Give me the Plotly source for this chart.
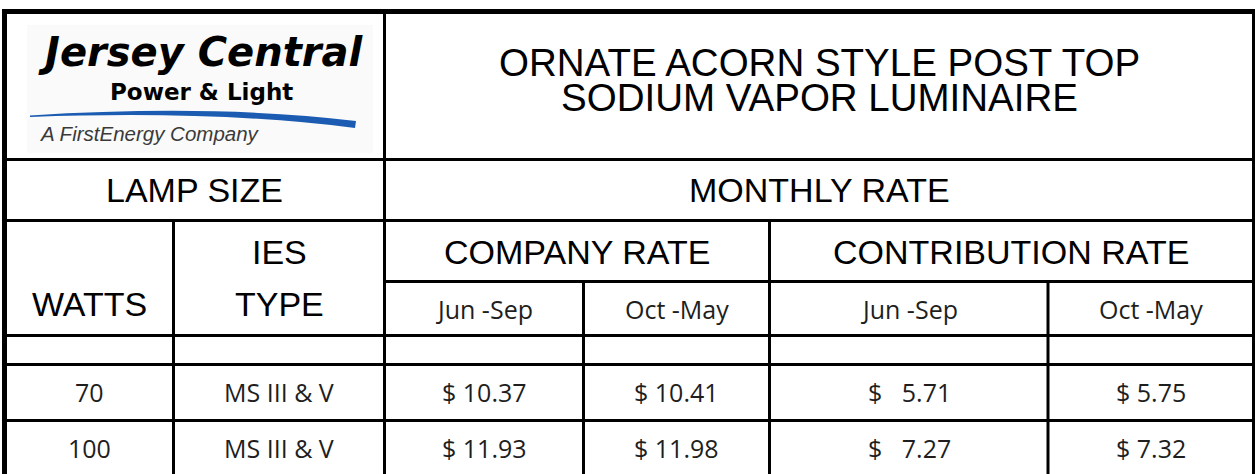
import plotly.graph_objects as go

# ---------------- data ----------------
title_lines = ["ORNATE ACORN STYLE POST TOP", "SODIUM VAPOR LUMINAIRE"]
group_headers = ["LAMP SIZE", "MONTHLY RATE"]
rate_headers = ["COMPANY RATE", "CONTRIBUTION RATE"]
season_labels = ["Jun -Sep", "Oct -May", "Jun -Sep", "Oct -May"]
watts = [70, 100]
ies_types = ["MS III & V", "MS III & V"]
company_jun_sep = [10.37, 11.93]
company_oct_may = [10.41, 11.98]
contribution_jun_sep = [5.71, 7.27]
contribution_oct_may = [5.75, 7.32]

# ---------------- layout constants ----------------
W, H = 1255, 474
HEAD_FONT = "Liberation Sans, Arial, sans-serif"
BODY_FONT = "'Open Sans', Lato, sans-serif"
BODY_COLOR = "#1e1e1e"

fig = go.Figure()
fig.add_trace(go.Scatter(x=[0, W], y=[0, H], mode="markers",
                         marker=dict(opacity=0), hoverinfo="skip", showlegend=False))

shapes = []
def hline(y, x0, x1, w=3):
    shapes.append(dict(type="line", xref="x", yref="y", x0=x0, x1=x1, y0=y, y1=y,
                       line=dict(color="black", width=w)))
def vline(x, y0, y1, w=3):
    shapes.append(dict(type="line", xref="x", yref="y", x0=x, x1=x, y0=y0, y1=y1,
                       line=dict(color="black", width=w)))

# logo background + swoosh
shapes.append(dict(type="rect", xref="x", yref="y", x0=27, x1=373, y0=25, y1=153,
                   fillcolor="#fafafa", line=dict(width=0), layer="below"))
shapes.append(dict(type="path", xref="x", yref="y",
                   path="M 30,115.5 Q 215,104 356,121 L 355,128 Q 215,110 30,117 Z",
                   fillcolor="#1b5cb2", line=dict(width=0)))

# outer borders
hline(11.5, 2, W, 5)
vline(4.5, 9, H, 5)
vline(1253.5, 9, H, 3)
# horizontal rules
hline(159.5, 4, W)
hline(220.5, 4, W)
hline(281.5, 384.5, W)
hline(335.5, 4, W)
hline(364.5, 4, W)
hline(420.5, 4, W)
# vertical rules
vline(384.5, 11, H)
vline(173.5, 220.5, H)
vline(769.5, 220.5, H)
vline(583.5, 281.5, H)
vline(1048, 281.5, H)

ann = []
def text(x, y, s, size, font=HEAD_FONT, color="black", **kw):
    ann.append(dict(x=x, y=y, xref="x", yref="y", text=s, showarrow=False,
                    xanchor=kw.pop("xanchor", "center"), yanchor="middle",
                    font=dict(family=font, size=size, color=color), **kw))

# logo text
text(200, 52, "<b><i>Jersey Central</i></b>", 40, font="DejaVu Sans, sans-serif")
text(201, 92, "<b>Power & Light</b>", 23, font="DejaVu Sans, sans-serif")
text(37, 133, "<i>A FirstEnergy Company</i>", 20.5, color="#3a3a3a", xanchor="left")

# title
text(819.5, 62, title_lines[0], 38.5)
text(819.5, 97, title_lines[1], 38.5)

# group headers
text(194, 190, group_headers[0], 34)
text(819.5, 190, group_headers[1], 34)
text(89, 304, "WATTS", 34)
text(279, 252, "IES", 34)
text(279, 304, "TYPE", 34)
text(577, 252, rate_headers[0], 34)
text(1011, 252, rate_headers[1], 34)

col_x = [484, 676.5, 909, 1151]
for cx, lab in zip(col_x, season_labels):
    text(cx, 309, lab, 25, font=BODY_FONT, color=BODY_COLOR)

row_y = [392, 448]
for i, ry in enumerate(row_y):
    text(89, ry, str(watts[i]), 25, font=BODY_FONT, color=BODY_COLOR)
    text(279, ry, ies_types[i], 25, font=BODY_FONT, color=BODY_COLOR)
    text(col_x[0], ry, f"$ {company_jun_sep[i]:.2f}", 25, font=BODY_FONT, color=BODY_COLOR)
    text(col_x[1], ry, f"$ {company_oct_may[i]:.2f}", 25, font=BODY_FONT, color=BODY_COLOR)
    text(col_x[2], ry, f"$\u00a0\u00a0\u00a0{contribution_jun_sep[i]:.2f}", 25, font=BODY_FONT, color=BODY_COLOR)
    text(col_x[3], ry, f"$ {contribution_oct_may[i]:.2f}", 25, font=BODY_FONT, color=BODY_COLOR)

fig.update_layout(
    width=W, height=H, margin=dict(l=0, r=0, t=0, b=0),
    paper_bgcolor="white", plot_bgcolor="white",
    xaxis=dict(range=[0, W], visible=False, fixedrange=True),
    yaxis=dict(range=[H, 0], visible=False, fixedrange=True),
    shapes=shapes, annotations=ann, showlegend=False,
)
fig.write_html("out.html", config={"displayModeBar": False},
               post_script="document.body.style.margin='0';document.body.style.overflow='hidden';")
